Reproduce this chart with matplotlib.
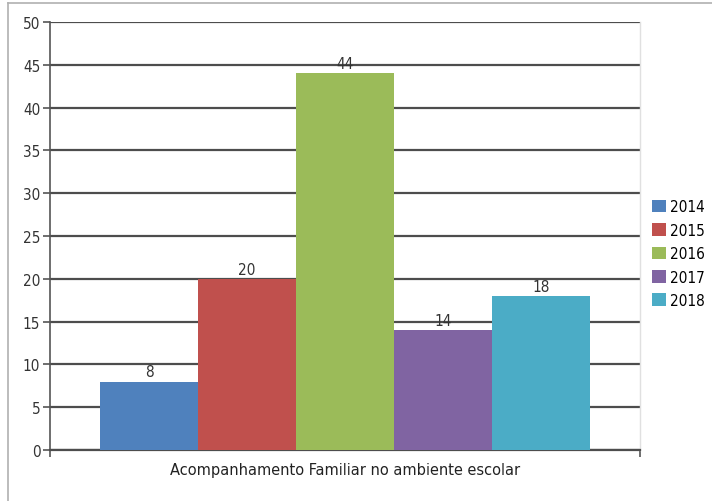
import matplotlib
matplotlib.use("Agg")
import matplotlib.pyplot as plt
from matplotlib.lines import Line2D

category = "Acompanhamento Familiar no ambiente escolar"
series = ["2014", "2015", "2016", "2017", "2018"]
values = [8, 20, 44, 14, 18]
colors = ["#4f81bd", "#c0504d", "#9bbb59", "#8064a2", "#4bacc6"]
yticks = [0, 5, 10, 15, 20, 25, 30, 35, 40, 45, 50]

plt.rcParams['font.family'] = ['DejaVu Sans']
plt.rcParams['font.stretch'] = 'condensed'

fig = plt.figure(figsize=(7.12, 5.02), dpi=100)
ax = fig.add_axes([50/712, 51/502, 590/712, 428/502])

w = 98/590
for i, (s, v, c) in enumerate(zip(series, values, colors)):
    x = 0.5 + (i - 2) * w
    ax.bar(x, v, width=w, color=c, label=s, zorder=3)
    ax.text(x, v + 0.25, str(v), ha='center', va='bottom', fontsize=11, color='#333333', zorder=4)

ax.set_xlim(0, 1)
ax.set_ylim(0, 50)
ax.set_yticks(yticks)
ax.set_yticklabels([str(t) for t in yticks], fontsize=11, color='#333333')
ax.yaxis.grid(True, color='#4d4d4d', linewidth=1.6, zorder=0)
ax.set_axisbelow(True)
ax.tick_params(axis='y', length=5, width=1.2, color='#555555', pad=2)
ax.set_xticks([0, 1])
ax.set_xticklabels([])
ax.tick_params(axis='x', length=5, width=1.2, color='#555555', direction='out')
ax.set_xlabel(category, fontsize=11.7, color='#222222', labelpad=0)
ax.spines['top'].set_visible(False)
ax.spines['right'].set_color('#e0e0e0')
ax.spines['right'].set_linewidth(1)
ax.spines['left'].set_color('#555555')
ax.spines['left'].set_linewidth(1.2)
ax.spines['bottom'].set_color('#4d4d4d')
ax.spines['bottom'].set_linewidth(1.6)

leg = ax.legend(loc='upper left', bbox_to_anchor=(1.01, 0.60), frameon=False,
                fontsize=11, handlelength=0.9, handleheight=0.9, handletextpad=0.3,
                labelspacing=0.55, borderaxespad=0)

fig.add_artist(Line2D([8/712, 1], [1 - 4/502, 1 - 4/502], color='#b0b0b0', linewidth=1.2, transform=fig.transFigure))
fig.add_artist(Line2D([8/712, 8/712], [0, 1 - 4/502], color='#b0b0b0', linewidth=1.2, transform=fig.transFigure))

fig.savefig("out.png", dpi=100)
